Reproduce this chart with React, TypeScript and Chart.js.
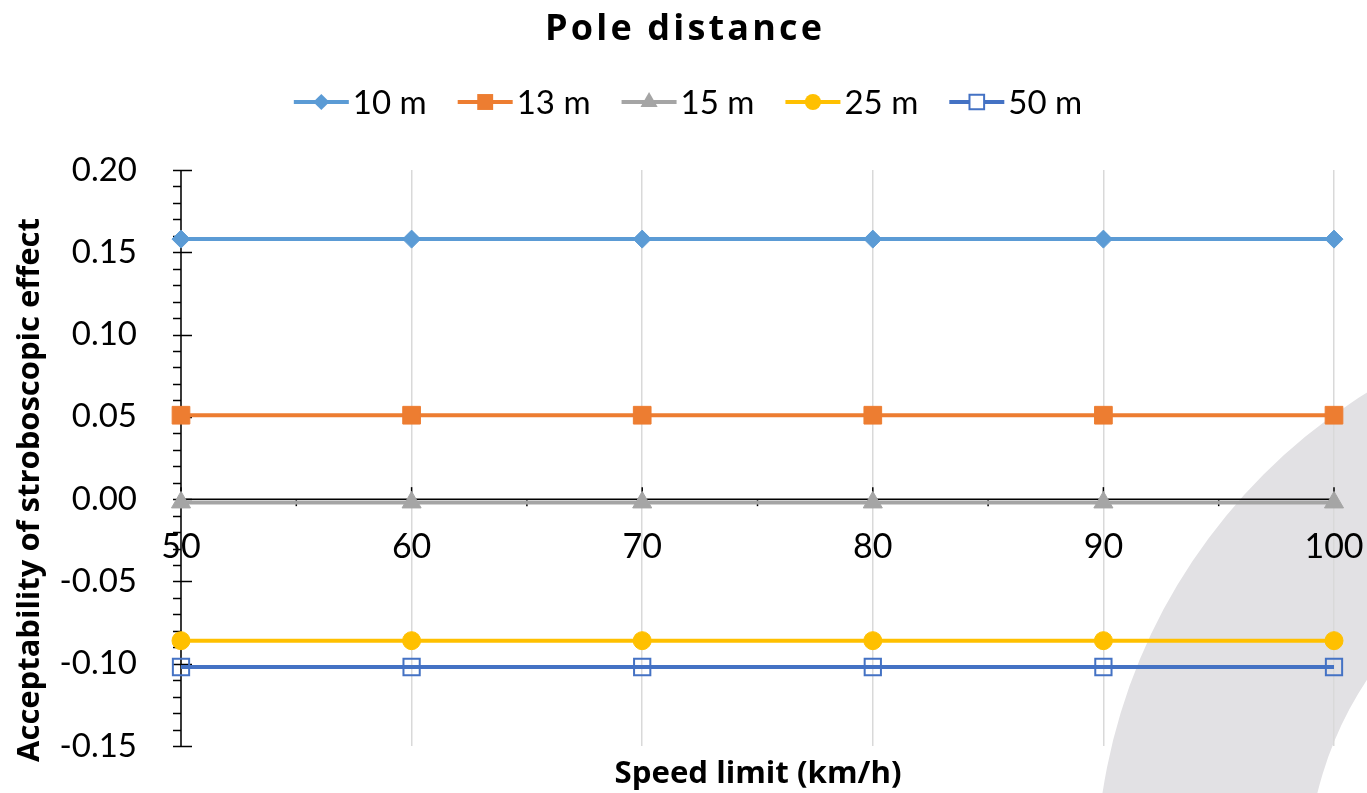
import { useEffect, useRef } from "react";
import { Chart, registerables } from "chart.js";

Chart.register(...registerables);

// Speed limits on the x axis (km/h)
const speedLimits = [50, 60, 70, 80, 90, 100];

// Acceptability of the stroboscopic effect per pole distance
const pole10m = [0.158, 0.158, 0.158, 0.158, 0.158, 0.158];
const pole13m = [0.051, 0.051, 0.051, 0.051, 0.051, 0.051];
const pole15m = [-0.002, -0.002, -0.002, -0.002, -0.002, -0.002];
const pole25m = [-0.086, -0.086, -0.086, -0.086, -0.086, -0.086];
const pole50m = [-0.102, -0.102, -0.102, -0.102, -0.102, -0.102];

const seriesLabels = ["10 m", "13 m", "15 m", "25 m", "50 m"];
const seriesValues = [pole10m, pole13m, pole15m, pole25m, pole50m];

// Axis ticks
const xMajorTicks = [50, 60, 70, 80, 90, 100];
const xMinorTicks = [55, 65, 75, 85, 95];
const yMin = -0.15;
const yMax = 0.2;
const yMajorStep = 0.05;
const yMinorStep = 0.01;

const chartTitle = "Pole distance";
const xTitle = "Speed limit (km/h)";
const yTitle = "Acceptability of stroboscopic effect";

type MarkerStyle = "rectRot" | "rect" | "triangle" | "circle" | "openRect";

const seriesStyles: { color: string; marker: MarkerStyle; radius: number }[] = [
  { color: "#5B9BD5", marker: "rectRot", radius: 9 },
  { color: "#ED7D31", marker: "rect", radius: 12.5 },
  { color: "#A5A5A5", marker: "triangle", radius: 11 },
  { color: "#FFC000", marker: "circle", radius: 9 },
  { color: "#4472C4", marker: "openRect", radius: 11.5 },
];

const FONT = "Lato, 'Open Sans', sans-serif";
const BOLD_FONT = "'Open Sans', Lato, sans-serif";

const fmt = (v: number) => (Math.abs(v) < 1e-9 ? "0.00" : v.toFixed(2));

// Pick a font size so that a text spans the given width
function fitFont(ctx: CanvasRenderingContext2D, text: string, family: string, width: number) {
  ctx.font = `bold 40px ${family}`;
  const w = ctx.measureText(text).width;
  const size = (40 * width) / w;
  ctx.font = `bold ${size.toFixed(2)}px ${family}`;
}

function drawMarker(
  ctx: CanvasRenderingContext2D,
  marker: MarkerStyle,
  x: number,
  y: number,
  r: number,
  color: string
) {
  ctx.save();
  ctx.beginPath();
  if (marker === "rectRot") {
    ctx.moveTo(x, y - r);
    ctx.lineTo(x + r, y);
    ctx.lineTo(x, y + r);
    ctx.lineTo(x - r, y);
    ctx.closePath();
  } else if (marker === "rect" || marker === "openRect") {
    const s = r * Math.SQRT1_2;
    ctx.rect(x - s, y - s, 2 * s, 2 * s);
  } else if (marker === "triangle") {
    ctx.moveTo(x, y - r);
    ctx.lineTo(x + r * Math.sin(Math.PI / 3), y + r / 2);
    ctx.lineTo(x - r * Math.sin(Math.PI / 3), y + r / 2);
    ctx.closePath();
  } else {
    ctx.arc(x, y, r, 0, Math.PI * 2);
  }
  if (marker === "openRect") {
    ctx.fillStyle = "#ffffff";
    ctx.fill();
    ctx.strokeStyle = color;
    ctx.lineWidth = 2;
    ctx.stroke();
  } else {
    ctx.fillStyle = color;
    ctx.fill();
  }
  ctx.restore();
}

// Light grey ring in the lower right corner of the page background
const backdropPlugin = {
  id: "backdrop",
  beforeDraw(chart: Chart) {
    const { ctx, width, height } = chart;
    ctx.save();
    ctx.fillStyle = "#ffffff";
    ctx.fillRect(0, 0, width, height);
    ctx.beginPath();
    ctx.arc(1668, 879, 572, 0, Math.PI * 2);
    ctx.arc(1668, 879, 361, 0, Math.PI * 2, true);
    ctx.fillStyle = "rgb(226,225,228)";
    ctx.fill("evenodd");
    ctx.restore();
  },
};

// Axis lines crossing at zero, tick marks and the x labels beside the x axis
const axesPlugin = {
  id: "crossAxes",
  beforeDatasetsDraw(chart: Chart) {
    const { ctx, chartArea } = chart;
    const xs = chart.scales.x;
    const ys = chart.scales.y;
    const axisY = ys.getPixelForValue(0);
    const axisX = chartArea.left;
    ctx.save();
    ctx.strokeStyle = "#000000";
    ctx.lineWidth = 1.5;

    // x labels
    ctx.fillStyle = "#000000";
    ctx.font = `34px ${FONT}`;
    ctx.textAlign = "center";
    ctx.textBaseline = "alphabetic";
    xMajorTicks.forEach((v) => {
      ctx.fillText(String(v), xs.getPixelForValue(v), axisY + 59);
    });

    // x axis line
    ctx.beginPath();
    ctx.moveTo(chartArea.left, axisY);
    ctx.lineTo(chartArea.right, axisY);
    ctx.stroke();
    xMajorTicks.forEach((v) => {
      const px = xs.getPixelForValue(v);
      ctx.beginPath();
      ctx.moveTo(px, axisY - 12);
      ctx.lineTo(px, axisY);
      ctx.stroke();
    });
    xMinorTicks.forEach((v) => {
      const px = xs.getPixelForValue(v);
      ctx.beginPath();
      ctx.moveTo(px, axisY);
      ctx.lineTo(px, axisY + 7);
      ctx.stroke();
    });

    // y axis line
    ctx.beginPath();
    ctx.moveTo(axisX, chartArea.top);
    ctx.lineTo(axisX, chartArea.bottom);
    ctx.stroke();
    const nMinor = Math.round((yMax - yMin) / yMinorStep);
    const ratio = Math.round(yMajorStep / yMinorStep);
    for (let i = 0; i <= nMinor; i++) {
      const v = yMin + i * yMinorStep;
      const py = Math.round(ys.getPixelForValue(v)) + 0.5;
      const major = i % ratio === 0;
      ctx.beginPath();
      ctx.moveTo(axisX - 8, py);
      ctx.lineTo(major ? axisX + 11 : axisX, py);
      ctx.stroke();
    }
    ctx.restore();
  },
};

// Chart title, legend and axis titles
const textPlugin = {
  id: "texts",
  afterDraw(chart: Chart) {
    const { ctx } = chart;
    ctx.save();
    ctx.fillStyle = "#000000";

    // title, letter-spaced
    ctx.font = `bold 36px ${BOLD_FONT}`;
    const plain = ctx.measureText(chartTitle).width;
    const spacing = Math.max(0, (277 - plain) / (chartTitle.length - 1));
    (ctx as any).letterSpacing = `${spacing.toFixed(2)}px`;
    ctx.textAlign = "left";
    ctx.textBaseline = "alphabetic";
    ctx.fillText(chartTitle, 545, 40);
    (ctx as any).letterSpacing = "0px";

    // legend
    ctx.font = `33px ${FONT}`;
    const lineLen = 55;
    const gap = 4;
    const itemGap = 31;
    const widths = seriesLabels.map((t) => lineLen + gap + ctx.measureText(t).width);
    const total = widths.reduce((a, b) => a + b, 0) + itemGap * (widths.length - 1);
    let x = 688 - total / 2;
    const ly = 102;
    seriesLabels.forEach((label, i) => {
      const st = seriesStyles[i];
      ctx.strokeStyle = st.color;
      ctx.lineWidth = 4;
      ctx.beginPath();
      ctx.moveTo(x, ly);
      ctx.lineTo(x + lineLen, ly);
      ctx.stroke();
      drawMarker(ctx, st.marker, x + lineLen / 2, ly, st.radius * 0.9, st.color);
      ctx.fillStyle = "#000000";
      ctx.textAlign = "left";
      ctx.textBaseline = "middle";
      ctx.fillText(label, x + lineLen + gap, ly + 1);
      x += widths[i] + itemGap;
    });

    // x axis title
    fitFont(ctx, xTitle, BOLD_FONT, 287);
    ctx.textAlign = "center";
    ctx.textBaseline = "alphabetic";
    ctx.fillText(xTitle, 758, 783);

    // y axis title
    fitFont(ctx, yTitle, BOLD_FONT, 544);
    ctx.translate(39, 490);
    ctx.rotate(-Math.PI / 2);
    ctx.fillText(yTitle, 0, 0);
    ctx.restore();
  },
};

export default function App() {
  const canvasRef = useRef<HTMLCanvasElement>(null);

  useEffect(() => {
    const canvas = canvasRef.current;
    if (!canvas) return;
    const datasets = seriesLabels.map((label, i) => {
      const st = seriesStyles[i];
      const open = st.marker === "openRect";
      return {
        label,
        data: speedLimits.map((s, j) => ({ x: s, y: seriesValues[i][j] })),
        borderColor: st.color,
        borderWidth: 4,
        tension: 0,
        clip: false as const,
        pointStyle: open ? "rect" : st.marker,
        pointRadius: st.radius,
        pointHoverRadius: st.radius,
        pointBackgroundColor: open ? "rgba(0,0,0,0)" : st.color,
        pointBorderColor: st.color,
        pointBorderWidth: open ? 2 : 1,
      };
    });

    const chart = new Chart(canvas, {
      type: "line",
      data: { datasets: datasets as any },
      options: {
        animation: false,
        responsive: false,
        devicePixelRatio: 1,
        layout: { padding: { top: 170, right: 33, left: 0, bottom: 0 } },
        plugins: {
          legend: { display: false },
          title: { display: false },
          tooltip: { enabled: false },
        },
        scales: {
          x: {
            type: "linear",
            min: 50,
            max: 100,
            ticks: { display: false, stepSize: 10 },
            grid: { color: "#d9d9d9", lineWidth: 1.5, drawTicks: false },
            border: { display: false },
            afterFit: (s: any) => {
              s.height = 47;
              s.paddingLeft = 0;
              s.paddingRight = 0;
            },
          },
          y: {
            min: yMin,
            max: yMax,
            ticks: {
              stepSize: yMajorStep,
              padding: 36,
              color: "#000000",
              font: { family: FONT, size: 33 },
              callback: (v: any) => fmt(Number(v)),
            },
            grid: { display: false },
            border: { display: false },
            afterFit: (s: any) => {
              s.width = 181;
              s.paddingTop = 0;
              s.paddingBottom = 0;
            },
          },
        },
      },
      plugins: [backdropPlugin, axesPlugin, textPlugin],
    });
    return () => chart.destroy();
  }, []);

  return (
    <div style={{ position: "absolute", left: 0, top: 0, width: 1367, height: 793 }}>
      <canvas ref={canvasRef} width={1367} height={793} />
    </div>
  );
}
